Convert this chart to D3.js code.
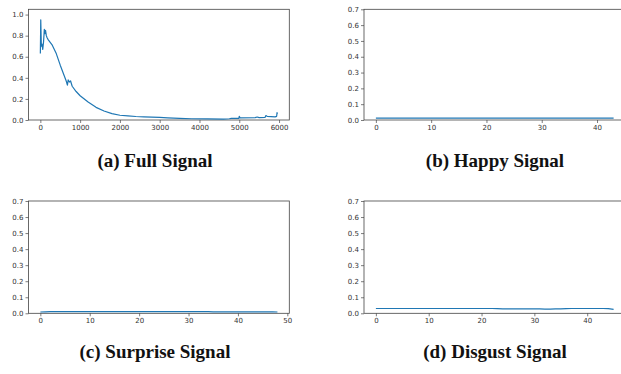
<!DOCTYPE html>
<html>
<head>
<meta charset="utf-8">
<script src="https://cdn.jsdelivr.net/npm/d3@7"></script>
<style>
  body { margin: 0; background: #fff; overflow: hidden; }
  svg { display: block; }
  .tick text { font-family: "DejaVu Sans", sans-serif; font-size: 7px; fill: #333; }
  .caption { font-family: "Liberation Serif", serif; font-weight: bold; font-size: 19px; fill: #111; }
</style>
</head>
<body>
<script>
/*************************** Data ***************************/
// full signal as (frame, value) pairs
var full_x = [0, 10, 25, 40, 60, 80, 100, 115, 130, 150, 170, 200, 300, 400, 500, 600, 650, 680, 700, 730, 760,
              800, 900, 1000, 1200, 1400, 1600, 1800, 2000, 2200, 2400, 2600, 2800, 3000, 3200, 3500, 3800,
              4200, 4600, 4750, 4800, 4990, 5000, 5020, 5400, 5450, 5500, 5650, 5670, 5700, 5900, 5940, 5950, 5960];
var full_y = [0.63, 0.95, 0.70, 0.72, 0.67, 0.74, 0.86, 0.82, 0.85, 0.80, 0.78, 0.76, 0.71, 0.63, 0.52, 0.42, 0.37, 0.33, 0.38, 0.36, 0.37,
              0.32, 0.27, 0.23, 0.17, 0.12, 0.085, 0.06, 0.045, 0.04, 0.033, 0.03, 0.028, 0.025, 0.02, 0.015, 0.012,
              0.01, 0.008, 0.012, 0.015, 0.015, 0.035, 0.02, 0.022, 0.028, 0.022, 0.025, 0.042, 0.035, 0.03, 0.035, 0.07, 0.06];

var happy_y = [0.012, 0.012, 0.012, 0.012, 0.012, 0.012, 0.012, 0.012, 0.012, 0.012, 0.012, 0.012, 0.012, 0.012, 0.012,
               0.012, 0.012, 0.012, 0.012, 0.012, 0.012, 0.012, 0.012, 0.012, 0.012, 0.012, 0.012, 0.012, 0.012, 0.012,
               0.012, 0.012, 0.012, 0.012, 0.012, 0.012, 0.012, 0.012, 0.012, 0.012, 0.012, 0.012, 0.012, 0.012];

var surprise_y = [0.008, 0.009, 0.010, 0.011, 0.011, 0.011, 0.010, 0.010, 0.010, 0.011, 0.011, 0.011, 0.010, 0.010, 0.010, 0.011, 0.011,
                  0.011, 0.011, 0.011, 0.011, 0.011, 0.011, 0.010, 0.010, 0.010, 0.010, 0.010, 0.010, 0.010, 0.010, 0.010, 0.010,
                  0.010, 0.010, 0.009, 0.009, 0.009, 0.009, 0.009, 0.009, 0.009, 0.009, 0.009, 0.009, 0.009, 0.009, 0.009, 0.008];

var disgust_y = [0.030, 0.030, 0.030, 0.030, 0.030, 0.030, 0.030, 0.030, 0.030, 0.030, 0.030, 0.030, 0.030, 0.030, 0.030, 0.030,
                 0.030, 0.030, 0.030, 0.030, 0.030, 0.030, 0.030, 0.029, 0.027, 0.027, 0.027, 0.027, 0.027, 0.027, 0.027, 0.027,
                 0.026, 0.026, 0.027, 0.027, 0.029, 0.030, 0.030, 0.030, 0.030, 0.030, 0.030, 0.030, 0.029, 0.025];

var full_ticks_x = [0, 1000, 2000, 3000, 4000, 5000, 6000];
var full_ticks_y = [0.0, 0.2, 0.4, 0.6, 0.8, 1.0];
var small_ticks_y = [0.0, 0.1, 0.2, 0.3, 0.4, 0.5, 0.6, 0.7];
var captions = ["(a) Full Signal", "(b) Happy Signal", "(c) Surprise Signal", "(d) Disgust Signal"];

/*************************** Functions ***************************/
var svg = d3.select("body").append("svg").attr("width", 621).attr("height", 374);

function draw_panel(box, pts, xdom, ydom, xticks, yticks, yfmt)
{
    var x = d3.scaleLinear().domain(xdom).range([box.left, box.right]);
    var y = d3.scaleLinear().domain(ydom).range([box.bottom, box.top]);
    var g = svg.append("g");

    var xa = g.append("g").attr("transform", "translate(0," + box.bottom + ")")
              .call(d3.axisBottom(x).tickValues(xticks).tickSize(3).tickPadding(2).tickFormat(d3.format("d")));
    var ya = g.append("g").attr("transform", "translate(" + box.left + ",0)")
              .call(d3.axisLeft(y).tickValues(yticks).tickSize(3).tickPadding(2).tickFormat(d3.format(yfmt)));
    [xa, ya].forEach(function(a){
        a.select(".domain").remove();
        a.selectAll(".tick line").attr("stroke", "#444").attr("stroke-width", 0.7);
    });

    // frame
    g.append("rect").attr("x", box.left).attr("y", box.top)
     .attr("width", box.right - box.left).attr("height", box.bottom - box.top)
     .attr("fill", "none").attr("stroke", "#444").attr("stroke-width", 0.8);

    var line = d3.line().x(function(d){ return x(d[0]); }).y(function(d){ return y(d[1]); });
    g.append("path").datum(pts).attr("d", line)
     .attr("fill", "none").attr("stroke", "#1f77b4").attr("stroke-width", 1.2)
     .attr("stroke-linejoin", "round");
}

function idx_pts(vals){ return vals.map(function(v, i){ return [i, v]; }); }
function pad(n){ return [-n * 0.05, n * 1.05]; }

/*************************** Panels ***************************/
var top_row = {top: 9.3, bottom: 120};
var bot_row = {top: 201, bottom: 313.3};

draw_panel({left: 28.5, right: 289.3, top: top_row.top, bottom: top_row.bottom},
           full_x.map(function(v, i){ return [v, full_y[i]]; }),
           pad(5960), [0, 1.05], full_ticks_x, full_ticks_y, ".1f");

draw_panel({left: 364, right: 625.5, top: top_row.top, bottom: top_row.bottom},
           idx_pts(happy_y), pad(happy_y.length - 1), [0, 0.7], [0, 10, 20, 30, 40], small_ticks_y, ".1f");

draw_panel({left: 28.5, right: 289.3, top: bot_row.top, bottom: bot_row.bottom},
           idx_pts(surprise_y), pad(surprise_y.length - 1), [0, 0.7], [0, 10, 20, 30, 40, 50], small_ticks_y, ".1f");

draw_panel({left: 364, right: 625.5, top: bot_row.top, bottom: bot_row.bottom},
           idx_pts(disgust_y), pad(disgust_y.length - 1), [0, 0.7], [0, 10, 20, 30, 40], small_ticks_y, ".1f");

var cap_pos = [[155, 167], [495, 167], [155, 358], [495, 358]];
svg.selectAll("text.caption").data(captions).enter()
   .append("text").attr("class", "caption")
   .attr("x", function(d, i){ return cap_pos[i][0]; })
   .attr("y", function(d, i){ return cap_pos[i][1]; })
   .attr("text-anchor", "middle")
   .text(function(d){ return d; });
</script>
</body>
</html>
